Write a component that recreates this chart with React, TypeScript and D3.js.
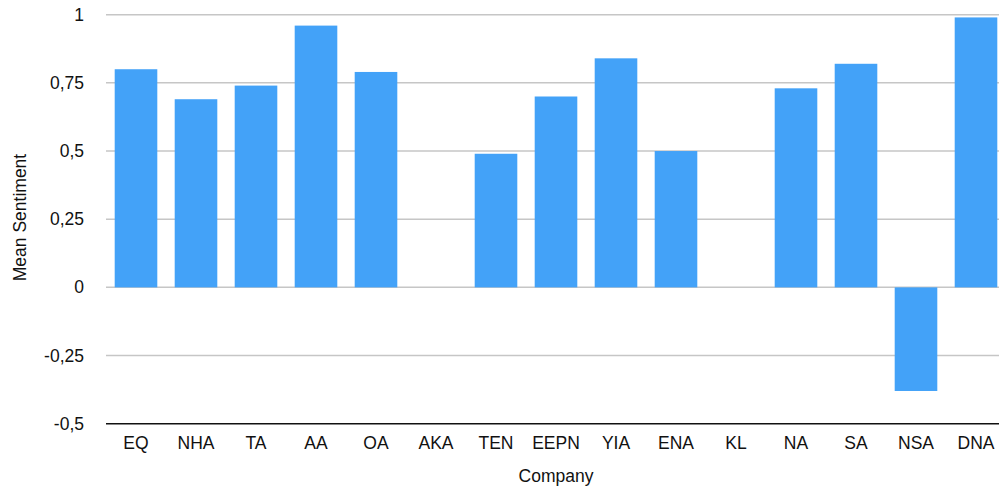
import React from "react";
import * as d3 from "d3";

const companies = ["EQ", "NHA", "TA", "AA", "OA", "AKA", "TEN", "EEPN", "YIA", "ENA", "KL", "NA", "SA", "NSA", "DNA"];
const meanSentiment = [0.8, 0.69, 0.74, 0.96, 0.79, 0, 0.49, 0.7, 0.84, 0.5, 0, 0.73, 0.82, -0.38, 0.99];
const yTicks = [-0.5, -0.25, 0, 0.25, 0.5, 0.75, 1];

const W = 999;
const H = 487;
const left = 106;
const plotRight = 1006;
const top = 14.7;
const bottom = 423.7;
const font = "'Liberation Sans', Arial, Helvetica, sans-serif";
const fs = 17.5;

const fmt = (v: number) => String(v).replace(".", ",");

export default function App() {
  const x = d3.scaleBand<string>().domain(companies).range([left, plotRight]).paddingInner(0.29).paddingOuter(0.145);
  const y = d3.scaleLinear().domain([-0.5, 1]).range([bottom, top]);

  return (
    <svg width={W} height={H} style={{ position: "absolute", left: 0, top: 0, background: "#fff" }} fontFamily={font}>
      {yTicks.filter((t) => t !== -0.5).map((t) => (
        <line key={t} x1={left} x2={W} y1={y(t)} y2={y(t)} stroke="#c6c6c6" strokeWidth={1.5} />
      ))}
      {companies.map((c, i) => {
        const v = meanSentiment[i];
        if (v === 0) return null;
        const y0 = y(0);
        const yv = y(v);
        return (
          <rect key={c} x={x(c)} width={x.bandwidth()} y={Math.min(y0, yv)} height={Math.abs(yv - y0)} fill="#43a2f8" />
        );
      })}
      <line x1={left} x2={W} y1={y(-0.5)} y2={y(-0.5)} stroke="#111" strokeWidth={1.4} />
      {yTicks.map((t) => (
        <text key={t} x={84} y={y(t)} dy="0.35em" textAnchor="end" fontSize={fs} fill="#111">
          {fmt(t)}
        </text>
      ))}
      {companies.map((c) => (
        <text key={c} x={(x(c) as number) + x.bandwidth() / 2} y={443} dy="0.35em" textAnchor="middle" fontSize={fs} fill="#111">
          {c}
        </text>
      ))}
      <text x={556} y={476} dy="0.35em" textAnchor="middle" fontSize={fs} fill="#111">
        Company
      </text>
      <text transform={`translate(20, 217.5) rotate(-90)`} dy="0.35em" textAnchor="middle" fontSize={fs} fill="#111">
        Mean Sentiment
      </text>
    </svg>
  );
}
